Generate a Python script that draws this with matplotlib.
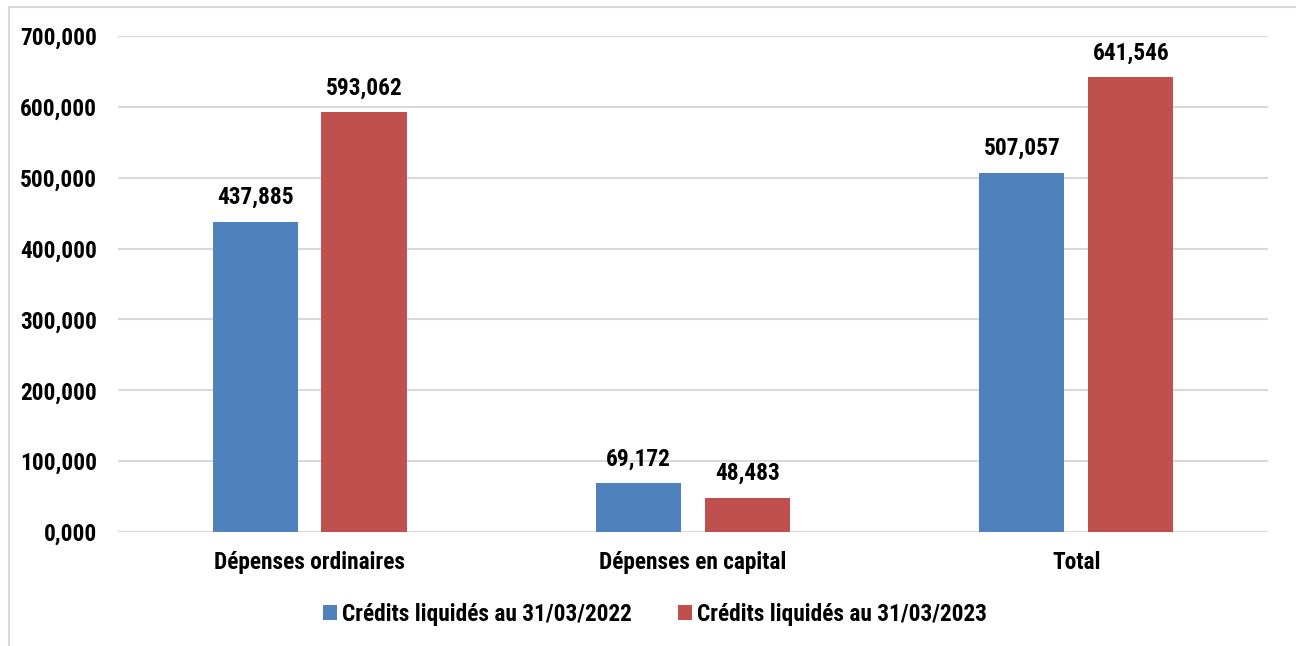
import matplotlib.pyplot as plt
import numpy as np
from matplotlib.patches import Rectangle
from matplotlib import font_manager as fm

names = {f.name for f in fm.fontManager.ttflist}
narrow = [n for n in ('Liberation Sans Narrow', 'Arial Narrow', 'Roboto Condensed') if n in names]
plt.rcParams['font.family'] = narrow + ['Liberation Sans', 'DejaVu Sans']
plt.rcParams['font.weight'] = 'bold'
fs = 16.8 if narrow else 14.5

categories = ['Dépenses ordinaires', 'Dépenses en capital', 'Total']
credits_2022 = [437.885, 69.172, 507.057]
credits_2023 = [593.062, 48.483, 641.546]
series_names = ['Crédits liquidés au 31/03/2022', 'Crédits liquidés au 31/03/2023']
yticks = [0, 100, 200, 300, 400, 500, 600, 700]


def fr(v):
    return f'{v:.3f}'.replace('.', ',')


fig = plt.figure(figsize=(12.96, 6.46), dpi=100)
# light frame around the chart
fig.patches.append(Rectangle((0.007, -0.01), 1.0, 0.999, transform=fig.transFigure,
                             fill=False, edgecolor='#d9d9d9', linewidth=1.5))

ax = fig.add_axes([0.091, 0.1765, 0.8874, 0.7678])

x = np.arange(len(categories))
w = 0.222
off = 0.142
b1 = ax.bar(x - off, credits_2022, w, color='#4f81bd', label=series_names[0], zorder=3)
b2 = ax.bar(x + off, credits_2023, w, color='#c0504d', label=series_names[1], zorder=3)

for bars, vals in ((b1, credits_2022), (b2, credits_2023)):
    for r, v in zip(bars, vals):
        ax.annotate(fr(v), (r.get_x() + r.get_width() / 2, v), xytext=(0, 9),
                    textcoords='offset points', ha='center', va='bottom',
                    fontsize=fs, fontweight='bold')

ax.set_xlim(-0.5, 2.5)
ax.set_ylim(0, 700)
ax.set_yticks(yticks)
ax.set_yticklabels([fr(t) for t in yticks], fontsize=fs, fontweight='bold')
ax.set_xticks(x)
ax.set_xticklabels(categories, fontsize=fs, fontweight='bold')
ax.tick_params(length=0)
ax.tick_params(axis='y', pad=15)
ax.tick_params(axis='x', pad=14)
ax.grid(axis='y', color='#d9d9d9', linewidth=1.5, zorder=0)
for s in ax.spines.values():
    s.set_visible(False)

ax.legend(loc='upper center', bbox_to_anchor=(0.467, -0.10), ncol=2, frameon=False,
          handlelength=0.6, handleheight=0.6, handletextpad=0.2,
          columnspacing=2.0, prop={'weight': 'bold', 'size': fs})

fig.savefig('out.png', dpi=100)
